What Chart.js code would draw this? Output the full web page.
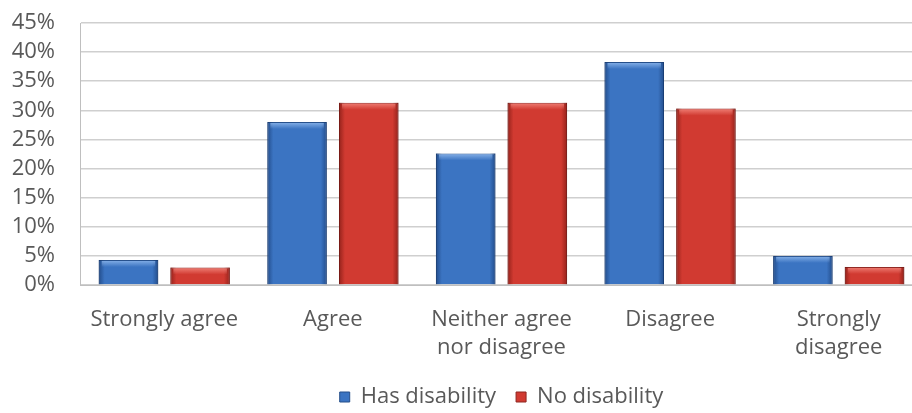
<!DOCTYPE html>
<html>
<head>
<meta charset="utf-8">
<script src="https://cdn.jsdelivr.net/npm/chart.js@4/dist/chart.umd.min.js"></script>
<style>
  html, body { margin: 0; padding: 0; background: #fff; overflow: hidden; }
  /* a bit wider than the window: Chart.js keeps ~13px on the right we don't want */
  #wrap { width: 925px; height: 413px; }
  #chart { display: block; }
</style>
</head>
<body>
<div id="wrap"><canvas id="chart"></canvas></div>
<script>
// categories and series
const categories = ['Strongly agree', 'Agree', ['Neither agree', 'nor disagree'], 'Disagree', ['Strongly', 'disagree']];
const hasDisability = [4.3, 28.0, 22.6, 38.3, 5.0];
const noDisability = [3.0, 31.3, 31.3, 30.3, 3.1];
const yTicks = [0, 5, 10, 15, 20, 25, 30, 35, 40, 45];

const textColor = '#595959';
const fontFamily = '"Open Sans", Lato, sans-serif';

// bevel look: darker sides and a light strip on top of each bar
const bevelPlugin = {
  id: 'bevel',
  afterDatasetsDraw(chart) {
    const ctx = chart.ctx;
    const tints = ['rgba(15,45,95,', 'rgba(100,15,10,'];
    const lights = ['rgba(150,190,240,', 'rgba(245,140,130,'];
    chart.data.datasets.forEach((ds, i) => {
      const meta = chart.getDatasetMeta(i);
      meta.data.forEach((bar) => {
        const left = bar.x - bar.width / 2;
        const top = bar.y;
        const h = bar.base - bar.y;
        const w = bar.width;
        ctx.save();
        const g = ctx.createLinearGradient(left, 0, left + w, 0);
        g.addColorStop(0, tints[i] + '0.55)');
        g.addColorStop(0.1, tints[i] + '0.0)');
        g.addColorStop(0.9, tints[i] + '0.0)');
        g.addColorStop(1, tints[i] + '0.55)');
        ctx.fillStyle = g;
        ctx.fillRect(left, top, w, h);
        const hs = Math.min(7, h / 2);
        const g2 = ctx.createLinearGradient(0, top, 0, top + hs);
        g2.addColorStop(0, lights[i] + '0.85)');
        g2.addColorStop(1, lights[i] + '0.0)');
        ctx.fillStyle = g2;
        ctx.fillRect(left + 3, top + 1, w - 6, hs);
        ctx.restore();
      });
    });
  }
};

new Chart(document.getElementById('chart'), {
  type: 'bar',
  data: {
    labels: categories,
    datasets: [
      {
        label: 'Has disability',
        data: hasDisability,
        backgroundColor: '#3b74c2',
        borderColor: '#254f8a',
        borderWidth: 1,
        categoryPercentage: 0.85,
        barPercentage: 0.83
      },
      {
        label: 'No disability',
        data: noDisability,
        backgroundColor: '#d13a31',
        borderColor: '#8e2621',
        borderWidth: 1,
        categoryPercentage: 0.85,
        barPercentage: 0.83
      }
    ]
  },
  options: {
    responsive: true,
    maintainAspectRatio: false,
    animation: false,
    layout: { autoPadding: false, padding: { top: 23, right: 2, left: 0, bottom: -5 } },
    plugins: {
      tooltip: { enabled: false },
      legend: {
        position: 'bottom',
        fullSize: false,
        labels: {
          boxWidth: 10,
          boxHeight: 10,
          padding: 20,
          color: textColor,
          font: { family: fontFamily, size: 22 }
        }
      }
    },
    scales: {
      x: {
        grid: { display: true, drawOnChartArea: false, tickLength: 20, tickColor: 'rgba(0,0,0,0)' },
        border: { color: '#bfbfbf', width: 1 },
        ticks: {
          color: textColor,
          padding: 0,
          maxRotation: 0,
          autoSkip: false,
          font: { family: fontFamily, size: 22, lineHeight: 1.3 }
        },
        afterFit(scale) { scale.height = 81; }
      },
      y: {
        min: 0,
        max: 45,
        afterBuildTicks(scale) { scale.ticks = yTicks.map(v => ({ value: v })); },
        grid: { color: '#cfcfcf', lineWidth: 1.5, tickLength: 25, tickColor: 'rgba(0,0,0,0)' },
        border: { color: '#bfbfbf', width: 1 },
        ticks: {
          color: textColor,
          padding: 0,
          autoSkip: false,
          font: { family: fontFamily, size: 22 },
          callback: (v) => v + '%'
        },
        afterFit(scale) { scale.width = 80; }
      }
    }
  },
  plugins: [bevelPlugin]
});
</script>
</body>
</html>
